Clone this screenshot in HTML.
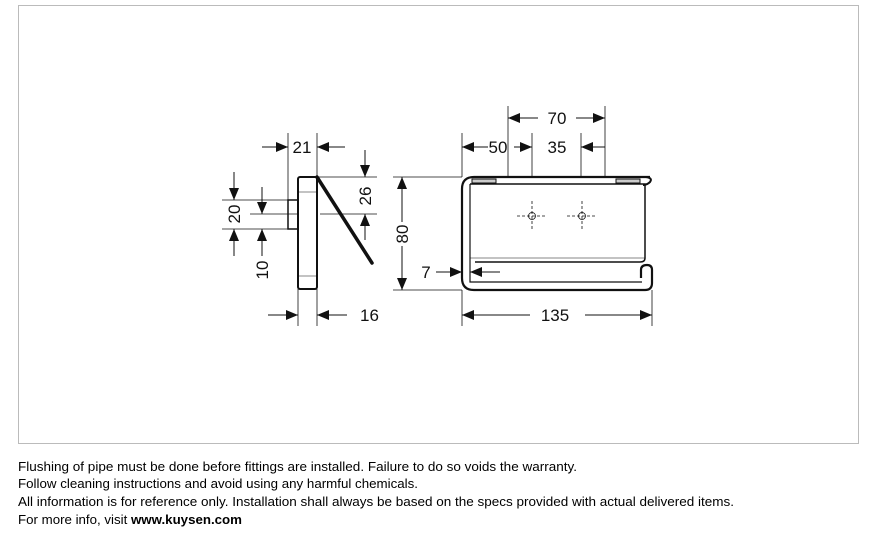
<!DOCTYPE html>
<html><head><meta charset="utf-8"><style>
html,body{margin:0;padding:0;background:#fff;}
svg{display:block}
.d{font-family:"Liberation Sans",sans-serif;font-size:17px;fill:#111}
.t{font-family:"Liberation Sans",sans-serif;font-size:13px;fill:#000}
</style></head><body>
<svg width="871" height="534" viewBox="0 0 871 534" xmlns="http://www.w3.org/2000/svg">
<defs>
<marker id="a" viewBox="0 0 12 10" refX="12" refY="5" markerWidth="12" markerHeight="10" markerUnits="userSpaceOnUse" orient="auto"><path d="M0,0 L12,5 L0,10 z" fill="#111"/></marker>
</defs>
<rect x="18.5" y="5.5" width="840" height="438" fill="none" stroke="#bbb" stroke-width="1"/>

<g stroke="#111" fill="none">
<!-- left view -->
<rect x="298" y="177" width="19" height="112" rx="2" stroke-width="2"/>
<line x1="298" y1="192" x2="317" y2="192" stroke-width="0.6"/>
<line x1="298" y1="276" x2="317" y2="276" stroke-width="0.6"/>
<rect x="288" y="200" width="10" height="29" stroke-width="1.5"/>
<line x1="317" y1="177" x2="372" y2="263" stroke-width="3.5" stroke-linecap="round"/>
<g stroke-width="0.8">
<line x1="288" y1="133" x2="288" y2="200"/><line x1="317" y1="133" x2="317" y2="177"/>
<line x1="317" y1="177" x2="377" y2="177"/><line x1="320" y1="214" x2="377" y2="214"/>
<line x1="222" y1="200" x2="288" y2="200"/><line x1="222" y1="229" x2="288" y2="229"/>
<line x1="250" y1="214" x2="298" y2="214"/>
<line x1="298" y1="289" x2="298" y2="326"/><line x1="317" y1="289" x2="317" y2="326"/>
</g>
<g stroke-width="1" marker-end="url(#a)">
<line x1="262" y1="147" x2="288" y2="147"/><line x1="345" y1="147" x2="317" y2="147"/>
<line x1="365" y1="150" x2="365" y2="177"/><line x1="365" y1="240" x2="365" y2="214"/>
<line x1="234" y1="172" x2="234" y2="200"/><line x1="234" y1="256" x2="234" y2="229"/>
<line x1="262" y1="187" x2="262" y2="214"/><line x1="262" y1="256" x2="262" y2="229"/>
<line x1="268" y1="315" x2="298" y2="315"/><line x1="347" y1="315" x2="317" y2="315"/>
</g>

<!-- right view -->
<path d="M650,177 L474,177 Q462,177 462,189 L462,278 Q462,290 474,290 L645,290 Q652,290 652,283 L652,270 Q652,265 647,265 Q641,265 641,270 L641,278" stroke-width="2.2"/>
<path d="M474,177 L646,177 Q653,178 650,182 Q647,185 643,185" stroke-width="2"/>
<path d="M470,184 L470,282 L642,282" stroke-width="1.2"/>
<path d="M470,184 L645,184 L645,258 Q645,262 640,262 L475,262" stroke-width="1.5"/>
<line x1="470" y1="258" x2="645" y2="258" stroke-width="0.6"/>
<rect x="472" y="179" width="24" height="4" stroke-width="1" fill="#ccc"/>
<rect x="616" y="179" width="24" height="4" stroke-width="1" fill="#ccc"/>
<g stroke-width="0.8" stroke-dasharray="3,2">
<line x1="517" y1="216" x2="547" y2="216"/><line x1="532" y1="201" x2="532" y2="231"/>
<line x1="567" y1="216" x2="597" y2="216"/><line x1="582" y1="201" x2="582" y2="231"/>
</g>
<circle cx="532" cy="216" r="3.5" stroke-width="0.8"/><circle cx="582" cy="216" r="3.5" stroke-width="0.8"/>
<g stroke-width="0.8">
<line x1="462" y1="133" x2="462" y2="177"/><line x1="508" y1="106" x2="508" y2="177"/>
<line x1="532" y1="133" x2="532" y2="177"/><line x1="581" y1="133" x2="581" y2="177"/>
<line x1="605" y1="106" x2="605" y2="177"/>
<line x1="393" y1="177" x2="462" y2="177"/><line x1="393" y1="290" x2="462" y2="290"/>
<line x1="462" y1="290" x2="462" y2="326"/><line x1="652" y1="290" x2="652" y2="326"/>
</g>
<g stroke-width="1" marker-end="url(#a)">
<line x1="488" y1="147" x2="462" y2="147"/><line x1="514" y1="147" x2="532" y2="147"/>
<line x1="605" y1="147" x2="581" y2="147"/>
<line x1="538" y1="118" x2="508" y2="118"/><line x1="576" y1="118" x2="605" y2="118"/>
<line x1="402" y1="222" x2="402" y2="177"/><line x1="402" y1="246" x2="402" y2="290"/>
<line x1="436" y1="272" x2="462" y2="272"/><line x1="500" y1="272" x2="470" y2="272"/>
<line x1="530" y1="315" x2="462" y2="315"/><line x1="585" y1="315" x2="652" y2="315"/>
</g>
</g>

<g class="d">
<text x="302" y="153" text-anchor="middle">21</text>
<text x="360" y="321">16</text>
<text transform="translate(371,196) rotate(-90)" text-anchor="middle">26</text>
<text transform="translate(240,214) rotate(-90)" text-anchor="middle">20</text>
<text transform="translate(268,270) rotate(-90)" text-anchor="middle">10</text>
<text transform="translate(408,234) rotate(-90)" text-anchor="middle">80</text>
<text x="557" y="124" text-anchor="middle">70</text>
<text x="498" y="153" text-anchor="middle">50</text>
<text x="557" y="153" text-anchor="middle">35</text>
<text x="426" y="278" text-anchor="middle">7</text>
<text x="555" y="321" text-anchor="middle">135</text>
</g>

<g class="t">
<text x="18" y="471" textLength="559" lengthAdjust="spacingAndGlyphs">Flushing of pipe must be done before fittings are installed. Failure to do so voids the warranty.</text>
<text x="18" y="488" textLength="400" lengthAdjust="spacingAndGlyphs">Follow cleaning instructions and avoid using any harmful chemicals.</text>
<text x="18" y="506" textLength="716" lengthAdjust="spacingAndGlyphs">All information is for reference only. Installation shall always be based on the specs provided with actual delivered items.</text>
<text x="18" y="524" textLength="224" lengthAdjust="spacingAndGlyphs">For more info, visit <tspan font-weight="bold">www.kuysen.com</tspan></text>
</g>
</svg>
</body></html>
